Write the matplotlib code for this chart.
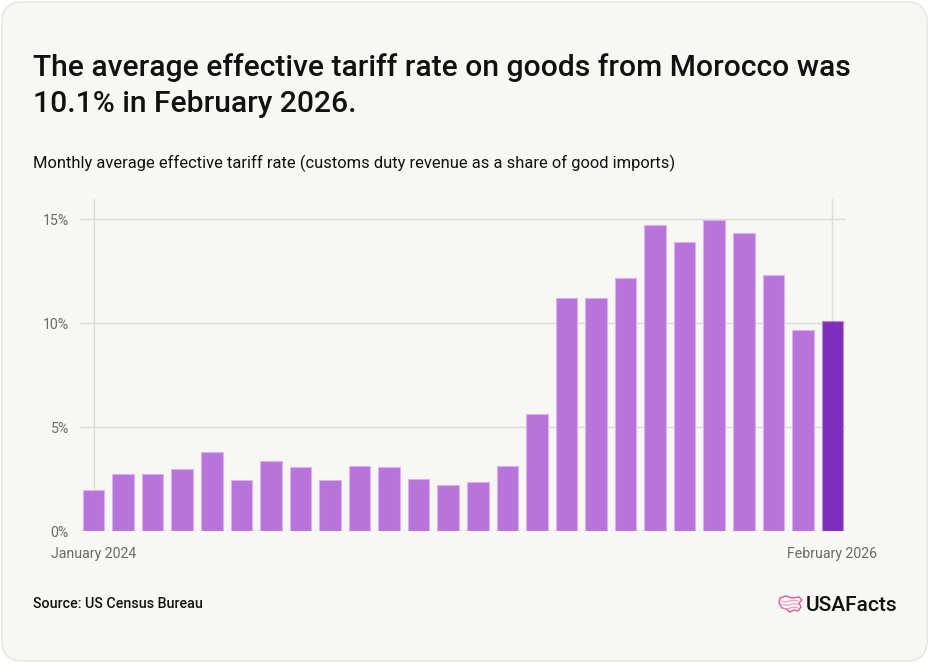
import matplotlib
matplotlib.use("Agg")
import matplotlib.pyplot as plt
from matplotlib.patches import FancyBboxPatch, Polygon
import numpy as np

months = ["Jan 2024", "Feb 2024", "Mar 2024", "Apr 2024", "May 2024", "Jun 2024",
          "Jul 2024", "Aug 2024", "Sep 2024", "Oct 2024", "Nov 2024", "Dec 2024",
          "Jan 2025", "Feb 2025", "Mar 2025", "Apr 2025", "May 2025", "Jun 2025",
          "Jul 2025", "Aug 2025", "Sep 2025", "Oct 2025", "Nov 2025", "Dec 2025",
          "Jan 2026", "Feb 2026"]
rates = [1.99, 2.74, 2.77, 2.98, 3.80, 2.45, 3.38, 3.09, 2.47, 3.13, 3.09, 2.51,
         2.24, 2.39, 3.16, 5.62, 11.22, 11.20, 12.19, 14.71, 13.91, 14.98, 14.33,
         12.31, 9.68, 10.13]
y_ticks = [0, 5, 10, 15]
y_tick_labels = ["0%", "5%", "10%", "15%"]
x_tick_labels = ["January 2024", "February 2026"]

W, H = 929, 663
FONT = ["Roboto", "DejaVu Sans"]
fig = plt.figure(figsize=(W / 100, H / 100), dpi=100)
fig.patch.set_facecolor("white")

card = FancyBboxPatch((0.002, 0.003), 0.996, 0.994,
                      boxstyle="round,pad=0,rounding_size=0.022",
                      transform=fig.transFigure, facecolor="#F7F7F3",
                      edgecolor="#E4E4E0", linewidth=1.0, zorder=-10,
                      mutation_aspect=W / H)
fig.patches.append(card)

ax = fig.add_axes([80 / W, 1 - 531.3 / H, (846 - 80) / W, (531.3 - 198.5) / H])
ax.set_zorder(5)
ax.set_facecolor("none")

x = np.arange(len(rates))
colors = ["#B974DC"] * (len(rates) - 1) + ["#7F2DBD"]
edges = ["#D9B2EE"] * (len(rates) - 1) + ["#B98AE0"]
ax.bar(x, rates, width=0.73, color=colors, edgecolor=edges, linewidth=0.8, zorder=3)

ax.set_xlim(-0.46, len(rates) - 1 + 0.46)
ax.set_ylim(0, 16)
ax.set_yticks(y_ticks)
ax.set_yticklabels(y_tick_labels)
ax.set_xticks([0, len(rates) - 1])
ax.set_xticklabels(x_tick_labels)
ax.grid(True, color="#DCDCD8", linewidth=1.0, zorder=0)
ax.set_axisbelow(True)
for s in ax.spines.values():
    s.set_visible(False)
ax.tick_params(axis="both", length=0, colors="#6B6B6B", labelsize=10.2)
ax.tick_params(axis="y", pad=8)
ax.tick_params(axis="x", pad=11)
for lab in ax.get_xticklabels() + ax.get_yticklabels():
    lab.set_family(FONT)

fig.text(33 / W, 1 - 76 / H, "The average effective tariff rate on goods from Morocco was",
         fontsize=21.6, fontweight="medium", family=FONT,
         color="#111111", va="baseline", ha="left")
fig.text(33 / W, 1 - 111.5 / H, "10.1% in February 2026.",
         fontsize=21.6, fontweight="medium", family=FONT,
         color="#111111", va="baseline", ha="left")
fig.text(33 / W, 1 - 168.5 / H,
         "Monthly average effective tariff rate (customs duty revenue as a share of good imports)",
         fontsize=11.9, family=FONT, color="#111111",
         va="baseline", ha="left")
fig.text(33 / W, 1 - 608.5 / H, "Source: US Census Bureau", fontsize=10.3,
         fontweight="medium", family=FONT, color="#111111",
         va="baseline", ha="left")
fig.text(897 / W, 1 - 611 / H, "USAFacts", fontsize=15, fontweight="medium",
         family=FONT, color="#111111", va="baseline", ha="right")

# small pink map-outline logo mark
pts = np.array([[780, 598], [786, 596], [792, 598], [799, 597], [802, 600],
                [799, 603], [801, 607], [798, 611], [794, 610], [790, 612],
                [786, 609], [782, 608], [779, 603]], dtype=float)
pts[:, 0] /= W
pts[:, 1] = 1 - pts[:, 1] / H
fig.patches.append(Polygon(pts, closed=True, transform=fig.transFigure,
                           facecolor="none", edgecolor="#E8559A", linewidth=1.0))
for yy in (601, 604.5, 608):
    xs = np.linspace(782, 798, 9)
    ys = yy + 0.8 * np.sin((xs - 782) / 16 * 2 * np.pi)
    fig.lines.append(plt.Line2D(xs / W, 1 - ys / H,
                                transform=fig.transFigure, color="#F08CBD",
                                linewidth=0.7))

fig.savefig("out.png", dpi=100, facecolor=fig.get_facecolor())
